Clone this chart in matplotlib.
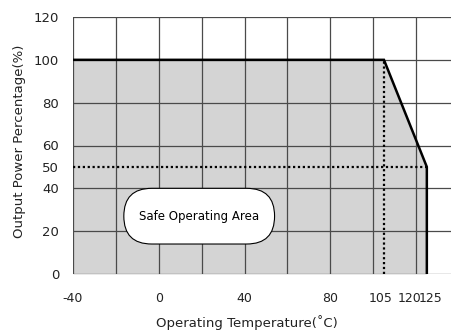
import matplotlib
matplotlib.use("Agg")
import matplotlib.pyplot as plt
from matplotlib.patches import FancyBboxPatch
from matplotlib.transforms import ScaledTranslation

# derating curve (temperature in C, output power in %)
curve_temp = [-40, 105, 125, 125]
curve_power = [100, 100, 50, 0]

x_ticks = [-40, 0, 40, 80, 105, 120, 125]
x_ticklabels = ["-40", "0", "40", "80", "105", "120", "125"]
y_ticks = [0, 20, 40, 50, 60, 80, 100, 120]
y_ticklabels = ["0", "20", "40", "50", "60", "80", "100", "120"]
grid_x = list(range(-40, 141, 20))
grid_y = list(range(0, 121, 20))

knee_temp = 105
half_power = 50
max_temp = 125

plt.rcParams['font.family'] = ['DejaVu Sans']

fig = plt.figure(figsize=(4.52, 3.32), dpi=100)
ax = fig.add_axes([73 / 452, 58 / 332, (459 - 73) / 452, 257 / 332])
ax.set_xlim(-40, 140)
ax.set_ylim(0, 120)

# safe area fill
ax.fill_between(curve_temp[:3], [0, 0, 0], curve_power[:3], color="#d4d4d4", lw=0, zorder=1)

# grid on top of the fill
for gx in grid_x:
    ax.axvline(gx, color="#4a4a4a", lw=0.9, zorder=2)
for gy in grid_y:
    ax.axhline(gy, color="#4a4a4a", lw=0.9, zorder=2)

# dotted guide lines
ax.plot([knee_temp, knee_temp], [0, 100], color="black", lw=1.6, ls=(0, (1, 1.2)), zorder=3)
ax.plot([-40, max_temp], [half_power, half_power], color="black", lw=1.6, ls=(0, (1, 1.2)), zorder=3)

# derating line
ax.plot(curve_temp, curve_power, color="black", lw=1.8, zorder=4, solid_joinstyle="miter")

# label box
box = FancyBboxPatch((-16.3, 14), 70.3, 26, boxstyle="round,pad=0,rounding_size=13",
                     facecolor="white", edgecolor="black", lw=0.8, zorder=5)
ax.add_patch(box)
ax.text(19, 27, "Safe Operating Area", ha="center", va="center", fontsize=8.5, zorder=6)

for s in ax.spines.values():
    s.set_visible(False)

ax.set_xticks(x_ticks)
ax.set_xticklabels(x_ticklabels)
ax.set_yticks(y_ticks)
ax.set_yticklabels(y_ticklabels)
ax.tick_params(length=0, labelsize=9.5, colors="#222222")
ax.tick_params(axis="x", pad=13, labelsize=9)
ax.tick_params(axis="y", pad=10)

# squeeze 120 label left so it doesn't collide with 125
lbls = ax.get_xticklabels()
lbls[4].set_transform(lbls[4].get_transform() + ScaledTranslation(-3 / 100, 0, fig.dpi_scale_trans))
lbls[5].set_transform(lbls[5].get_transform() + ScaledTranslation(-7 / 100, 0, fig.dpi_scale_trans))
lbls[6].set_transform(lbls[6].get_transform() + ScaledTranslation(4 / 100, 0, fig.dpi_scale_trans))

fig.text(247 / 452, 1 - 323 / 332, "Operating Temperature(\u02daC)", ha="center", va="center",
         fontsize=9.5, color="#222222")
fig.text(20 / 452, 1 - 141 / 332, "Output Power Percentage(%)", ha="center", va="center",
         rotation=90, fontsize=9.5, color="#222222")

fig.savefig("out.png", dpi=100)
